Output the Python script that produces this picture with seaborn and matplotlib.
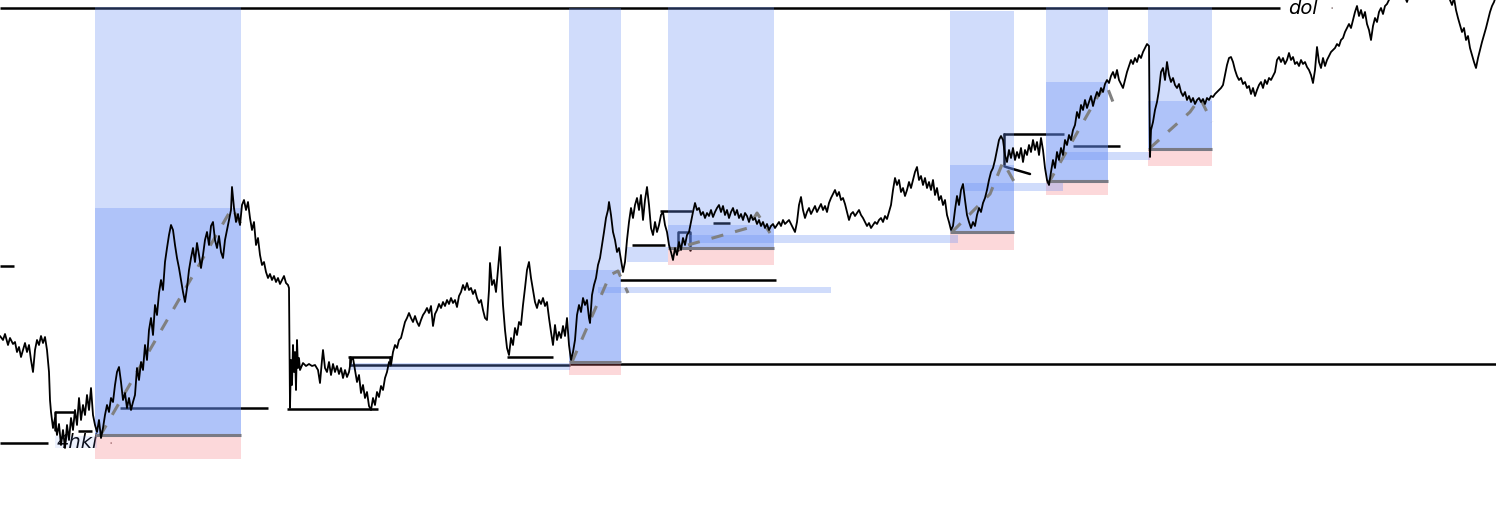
import matplotlib
matplotlib.use("Agg")
import matplotlib.pyplot as plt
import seaborn as sns
import pandas as pd

price = [
    (0,336),(3,340),(5,334),(8,345),(10,338),(13,344),(15,342),(17,352),(19,347),(21,357),(23,350),(25,343),
    (27,352),(29,345),(31,360),(33,372),(35,350),(37,340),(39,345),(41,336),(43,343),(45,337),(47,350),(49,372),
    (50,400),(51,412),(53,428),(55,418),(57,435),(59,424),(61,445),(63,430),(65,448),(67,425),(69,440),(71,418),
    (73,430),(75,410),(77,425),(79,398),(81,420),(83,405),(85,415),(87,395),(89,410),(91,388),(93,415),(95,425),
    (97,432),(99,420),(101,438),(103,428),(105,415),(107,405),(109,412),(111,398),(113,402),(115,385),(117,372),
    (119,367),(121,382),(123,400),(125,393),(127,408),(129,398),(131,410),(133,402),(135,395),(137,368),(139,380),
    (141,362),(143,370),(145,345),(147,360),(149,330),(151,318),(153,335),(155,305),(157,315),(159,293),(161,280),
    (163,290),(165,262),(167,248),(169,235),(171,225),(173,230),(175,245),(177,258),(179,268),(181,280),(183,292),
    (185,302),(187,288),(189,270),(191,258),(193,248),(195,262),(197,243),(199,255),(201,268),(203,255),(205,240),
    (207,232),(209,245),(211,226),(213,222),(215,240),(217,248),(219,236),(221,252),(223,258),(225,240),(227,230),
    (229,220),(231,210),(232,187),(234,208),(236,222),(238,214),(240,225),(242,205),(244,200),(246,210),(248,202),
    (250,218),(252,230),(254,222),(256,245),(258,238),(260,255),(262,265),(264,262),(266,272),(268,278),(270,274),
    (272,280),(274,276),(276,282),(278,278),(280,284),(282,280),(284,276),(286,283),(288,285),(289,288),
    (290,408),(291,360),(292,385),(293,345),(294,372),(295,352),(296,390),(297,340),(298,368),(299,358),(300,370),
    (303,363),(306,366),(309,364),(312,366),(315,365),(318,370),(320,383),(322,360),(323,350),(325,368),(327,372),
    (329,362),(331,375),(333,364),(335,372),(337,366),(339,374),(341,368),(343,378),(345,370),(347,377),(349,372),
    (351,360),(353,358),(355,370),(357,382),(359,375),(361,393),(363,385),(365,398),(367,392),(369,406),(371,410),
    (373,398),(375,405),(377,392),(379,397),(381,386),(383,390),(385,378),(387,372),(389,362),(391,365),(393,352),
    (395,345),(397,348),(399,340),(401,338),(403,330),(405,322),(407,318),(409,313),(411,318),(413,322),(415,316),
    (417,322),(419,326),(421,320),(423,315),(425,312),(427,308),(429,313),(431,306),(433,326),(435,314),(437,310),
    (439,304),(441,308),(443,302),(445,306),(447,300),(449,304),(451,298),(453,303),(455,300),(457,307),(459,296),
    (461,292),(463,285),(465,290),(467,283),(469,290),(471,288),(473,294),(475,290),(477,298),(479,303),(481,300),
    (483,310),(485,318),(487,320),(489,290),(490,263),(492,285),(494,280),(496,292),(498,270),(500,247),(502,285),
    (503,305),(505,330),(507,348),(509,355),(511,338),(513,345),(515,328),(517,335),(519,322),(521,325),(523,305),
    (525,288),(527,270),(529,262),(531,278),(533,290),(535,302),(537,308),(539,300),(541,304),(543,298),(545,306),
    (547,302),(549,318),(551,332),(553,345),(555,325),(557,340),(559,332),(561,338),(563,326),(565,336),(567,318),
    (569,345),(571,360),(573,352),(575,340),(577,315),(579,305),(581,312),(583,298),(585,305),(587,300),(589,318),
    (590,323),(592,295),(594,285),(596,278),(598,265),(600,258),(602,245),(604,232),(606,218),(608,210),(609,202),
    (611,215),(613,232),(615,240),(617,252),(619,248),(621,260),(623,272),(625,262),(627,240),(629,222),(631,208),
    (633,218),(635,205),(637,198),(639,210),(641,195),(643,220),(645,200),(647,187),(649,205),(651,228),(653,235),
    (655,222),(657,232),(659,225),(661,215),(663,212),(665,225),(667,232),(669,245),(671,252),(673,260),(675,248),
    (677,255),(679,242),(681,250),(683,238),(685,245),(687,235),(689,232),(691,222),(693,212),(695,203),(697,210),
    (699,208),(701,215),(703,212),(705,218),(707,213),(709,216),(711,210),(713,217),(715,212),(717,208),(719,205),
    (721,212),(723,206),(725,215),(727,210),(729,218),(731,212),(733,208),(735,215),(737,210),(739,218),(741,214),
    (743,220),(745,213),(747,216),(749,222),(751,215),(753,220),(755,218),(757,224),(759,220),(761,226),(763,222),
    (765,228),(767,224),(769,230),(771,226),(773,224),(775,228),(777,225),(779,222),(781,226),(783,220),(785,224),
    (787,222),(789,220),(791,224),(793,228),(795,232),(797,222),(799,205),(801,197),(803,210),(805,218),(807,212),
    (809,208),(811,214),(813,210),(815,206),(817,212),(819,208),(821,204),(823,210),(825,206),(827,212),(829,203),
    (831,198),(833,194),(835,190),(837,196),(839,192),(841,200),(843,198),(845,204),(847,212),(849,220),(851,214),
    (853,212),(855,216),(857,213),(859,210),(861,215),(863,218),(865,222),(867,226),(869,223),(871,228),(873,225),
    (875,222),(877,224),(879,220),(881,218),(883,222),(885,216),(887,219),(889,212),(891,205),(893,190),(895,178),
    (897,185),(899,180),(901,192),(903,188),(905,196),(907,190),(909,182),(911,188),(913,180),(915,172),(917,167),
    (919,180),(921,176),(923,185),(925,178),(927,188),(929,182),(931,190),(933,180),(935,195),(937,188),(939,200),
    (941,196),(943,205),(945,200),(947,215),(949,222),(951,230),(953,226),(955,210),(957,196),(959,205),(961,190),
    (963,184),(965,200),(967,215),(969,222),(971,228),(973,222),(975,226),(977,215),(979,208),(981,212),(983,203),
    (985,198),(987,190),(989,180),(991,172),(993,168),(995,160),(997,150),(999,140),(1001,136),(1003,140),(1005,155),
    (1007,162),(1009,150),(1011,158),(1013,148),(1015,160),(1017,152),(1019,158),(1021,148),(1023,162),(1025,150),
    (1027,155),(1029,145),(1031,152),(1033,140),(1035,150),(1037,142),(1039,155),(1041,138),(1043,150),(1045,168),
    (1047,180),(1049,185),(1051,172),(1053,160),(1055,168),(1057,152),(1059,160),(1061,148),(1063,155),(1065,140),
    (1067,145),(1069,135),(1071,140),(1073,130),(1075,125),(1077,112),(1079,118),(1081,105),(1083,110),(1085,100),
    (1087,108),(1089,102),(1091,96),(1093,106),(1095,98),(1097,92),(1099,96),(1101,88),(1103,92),(1105,84),
    (1107,80),(1109,83),(1111,76),(1113,72),(1115,78),(1117,70),(1119,80),(1121,84),(1123,88),(1125,80),(1127,72),
    (1129,66),(1131,60),(1133,64),(1135,58),(1137,62),(1139,55),(1141,58),(1143,52),(1145,48),(1147,44),(1149,46),
    (1150,157),(1151,130),(1153,122),(1155,110),(1157,102),(1159,90),(1161,72),(1163,68),(1165,80),(1167,62),
    (1169,75),(1171,82),(1173,78),(1175,85),(1177,88),(1179,84),(1181,92),(1183,96),(1185,92),(1187,100),(1189,96),
    (1191,102),(1193,98),(1195,104),(1197,100),(1199,98),(1201,102),(1203,99),(1205,104),(1207,98),(1209,100),
    (1211,96),(1213,97),(1215,94),(1217,92),(1219,90),(1221,88),(1223,85),(1225,75),(1227,65),(1229,58),(1231,57),
    (1233,62),(1235,70),(1237,76),(1239,80),(1241,78),(1243,84),(1245,82),(1247,88),(1249,86),(1251,94),(1253,88),
    (1255,96),(1257,90),(1259,85),(1261,82),(1263,88),(1265,80),(1267,84),(1269,78),(1271,80),(1273,76),(1275,72),
    (1277,60),(1279,57),(1281,62),(1283,58),(1285,64),(1287,60),(1289,53),(1291,60),(1293,57),(1295,64),(1297,62),
    (1299,66),(1301,60),(1303,64),(1305,62),(1307,67),(1309,70),(1311,75),(1313,83),(1315,70),(1317,47),(1319,62),
    (1321,68),(1323,58),(1325,66),(1327,60),(1329,56),(1331,52),(1333,50),(1335,48),(1337,44),(1339,46),(1341,40),
    (1343,38),(1345,32),(1347,28),(1349,24),(1351,28),(1353,20),(1355,12),(1357,6),(1359,16),(1361,10),(1363,18),
    (1365,12),(1367,24),(1369,30),(1371,40),(1373,26),(1375,18),(1377,22),(1379,12),(1381,8),(1383,14),(1385,6),
    (1387,4),(1389,0),(1391,-5),(1400,-15),(1407,2),(1410,-8),(1420,-20),(1430,-12),(1440,-18),(1448,-6),(1450,0),
    (1452,5),(1454,-2),(1456,10),(1458,18),(1460,25),(1462,32),(1464,28),(1466,40),(1468,36),(1470,48),(1472,55),
    (1474,62),(1476,68),(1478,58),(1480,50),(1482,42),(1484,35),(1486,28),(1488,20),(1490,12),(1492,6),(1494,2),
    (1496,-4),
]

# key levels: level, start bar, end bar
level_y = [8, 266, 443, 408, 409, 412, 431, 357, 365, 357, 364, 280, 245, 211, 232, 223, 134, 146]
level_x0 = [0, 0, 0, 120, 287, 55, 78, 348, 350, 507, 570, 620, 632, 660, 678, 713, 1003, 1073]
level_x1 = [1280, 14, 48, 268, 378, 74, 92, 392, 570, 553, 1496, 776, 665, 692, 690, 730, 1064, 1120]

# short connector strokes of the swing boxes
seg_x = [(55, 55), (350, 350), (390, 390), (678, 678), (690, 690), (1004, 1004), (1006, 1030)]
seg_y = [(412, 430), (357, 365), (357, 365), (232, 250), (232, 250), (134, 166), (167, 174)]

# trade zones
zone_x0 = [95, 569, 668, 950, 1046, 1148]
zone_x1 = [241, 621, 774, 1014, 1108, 1212]
zone_top = [7, 8, 7, 11, 7, 7]
zone_entry = [208, 270, 225, 165, 82, 101]
zone_base = [435, 362, 248, 232, 181, 149]
zone_stop = [459, 375, 265, 250, 195, 166]

# gap bands
band_x0 = [350, 598, 627, 690, 965, 1063, 55]
band_x1 = [570, 831, 668, 958, 1063, 1150, 97]
band_hi = [363, 287, 247, 235, 183, 152, 436]
band_lo = [370, 293, 262, 243, 191, 160, 448]

# dashed swing legs
legs = [
    [(100, 436), (232, 208), (244, 230)],
    [(572, 362), (610, 275), (618, 271), (628, 293)],
    [(688, 245), (748, 228), (757, 213), (770, 233)],
    [(952, 232), (990, 194), (1003, 162), (1016, 185)],
    [(1048, 184), (1098, 96), (1106, 84), (1113, 102)],
    [(1150, 148), (1190, 112), (1200, 98), (1212, 122)],
]

labels = ["dol", "4hkl"]
label_x = [1288, 57]
label_y = [8, 443]

blue = "#648cf5"
red = "#f5646e"

sns.set_style("white")
fig = plt.figure(figsize=(14.96, 5.18), dpi=100)
ax = fig.add_axes([0, 0, 1, 1])

df = pd.DataFrame(price, columns=["bar", "level"])
sns.lineplot(data=df, x="bar", y="level", sort=False, estimator=None,
             color="black", linewidth=1.3, ax=ax, zorder=6)

ax.hlines(level_y, level_x0, level_x1, color="black", linewidth=1.8, zorder=2)
for xs, ys in zip(seg_x, seg_y):
    ax.plot(xs, ys, color="black", linewidth=1.8, zorder=2)

for x0, x1, top, entry, base, stop in zip(zone_x0, zone_x1, zone_top, zone_entry, zone_base, zone_stop):
    ax.fill_between([x0, x1], top, base, color=blue, alpha=0.3, linewidth=0, zorder=3)
    ax.fill_between([x0, x1], entry, base, color=blue, alpha=0.3, linewidth=0, zorder=3)
    ax.fill_between([x0, x1], base, stop, color=red, alpha=0.25, linewidth=0, zorder=3)
    ax.hlines(base, x0, x1, color="#7a7a84", linewidth=2.2, zorder=4)

for x0, x1, hi, lo in zip(band_x0, band_x1, band_hi, band_lo):
    a = 0.12 if x0 < 100 else 0.3
    ax.fill_between([x0, x1], hi, lo, color=blue, alpha=a, linewidth=0, zorder=3)

for leg in legs:
    lx, ly = zip(*leg)
    ax.plot(lx, ly, color="#808080", linewidth=2.2, linestyle=(0, (4, 4)), zorder=5)

for name, x, y in zip(labels, label_x, label_y):
    ax.text(x, y, name, fontsize=14, style="italic", va="center", ha="left", color="black", zorder=2)
    ax.text(x + (42 if name == "dol" else 52), y + 1, "·", fontsize=10, va="center",
            color="#9a8a8a", zorder=2)

ax.set_xlim(0, 1496)
ax.set_ylim(518, 0)
ax.axis("off")
fig.savefig("out.png", dpi=100)
